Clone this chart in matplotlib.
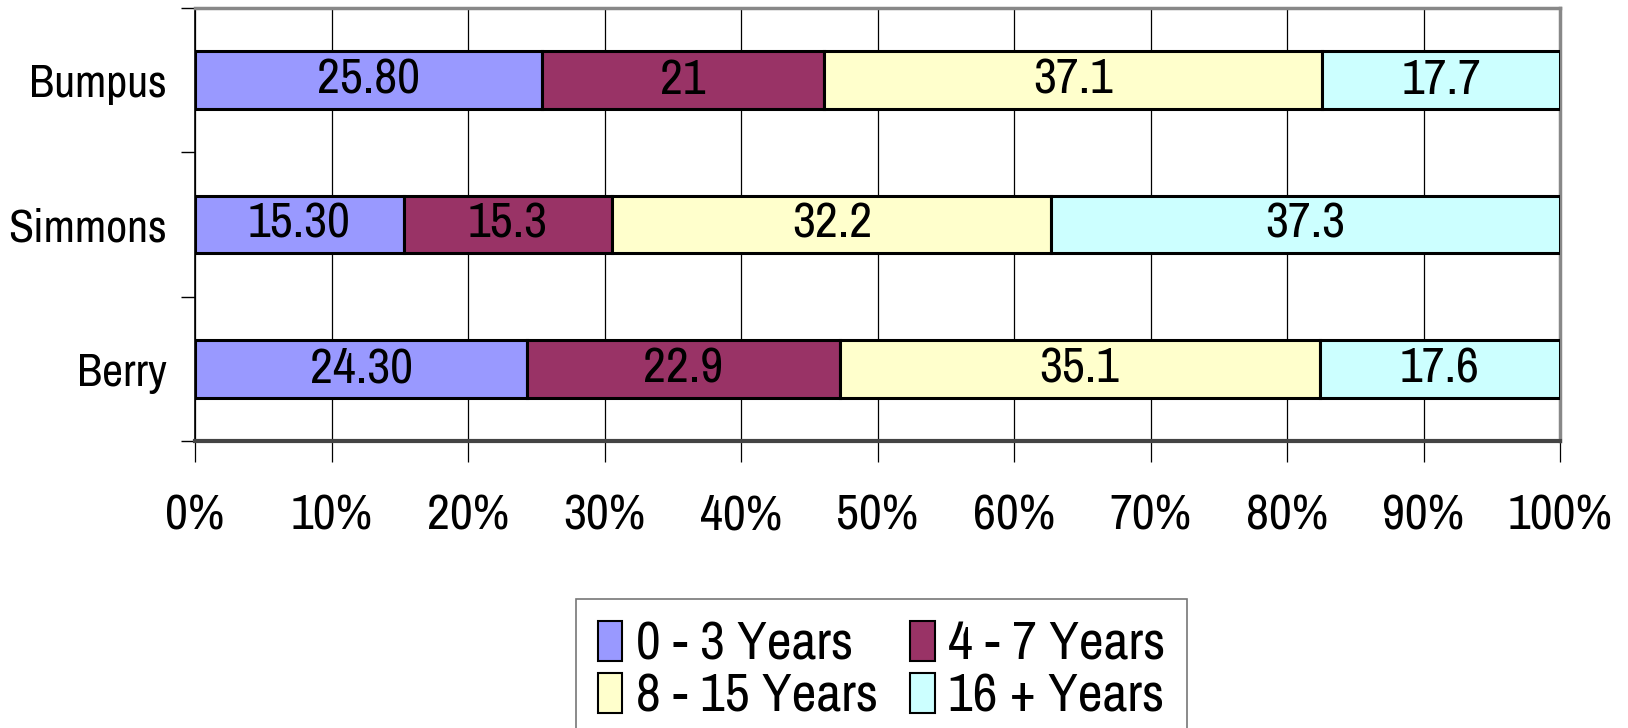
import matplotlib
matplotlib.use('Agg')
import matplotlib.pyplot as plt
import numpy as np

plt.rcParams['font.family'] = ['Archivo Narrow', 'DejaVu Sans']

# 数据
categories = ['Berry', 'Simmons', 'Bumpus']
series_names = ['0 - 3 Years', '4 - 7 Years', '8 - 15 Years', '16 + Years']
yrs_0_3 = [24.30, 15.30, 25.80]
yrs_4_7 = [22.9, 15.3, 21]
yrs_8_15 = [35.1, 32.2, 37.1]
yrs_16_plus = [17.6, 37.3, 17.7]
colors = ['#9999FF', '#993366', '#FFFFCC', '#CCFFFF']

series = [yrs_0_3, yrs_4_7, yrs_8_15, yrs_16_plus]
data = np.array(series, dtype=float)
shares = data / data.sum(axis=0)   # 百分比堆叠

fig = plt.figure(figsize=(16.28, 7.28), dpi=100)
ax = fig.add_axes([195 / 1628, 1 - 441 / 728, 1365 / 1628, 433 / 728])

y = np.arange(len(categories))
left = np.zeros(len(categories))
handles = []
for i, (vals, sh) in enumerate(zip(series, shares)):
    bars = ax.barh(y, sh, left=left, height=0.4, color=colors[i],
                   edgecolor='black', linewidth=2.2, label=series_names[i], zorder=3)
    handles.append(bars)
    for j, v in enumerate(vals):
        txt = f'{v:.2f}' if i == 0 else f'{v:g}'
        ax.text(left[j] + sh[j] / 2, y[j], txt, ha='center', va='center',
                fontsize=36, zorder=4)
    left += sh

ax.set_xlim(0, 1)
ax.set_ylim(-0.5, 2.5)
ticks = np.arange(0, 1.01, 0.1)
ax.set_xticks(ticks)
ax.set_xticklabels([f'{int(round(t * 100))}%' for t in ticks], fontsize=36)
ax.tick_params(axis='x', length=15, width=0.9, color='black', pad=23)
ax.set_yticks(y)
ax.set_yticklabels(categories, fontsize=33)
ax.tick_params(axis='y', which='major', length=0, pad=20)
ax.set_yticks([-0.5, 0.5, 1.5, 2.5], minor=True)
ax.tick_params(axis='y', which='minor', length=10, width=1, color='black')

ax.grid(axis='x', color='black', linewidth=0.9)
ax.set_axisbelow(True)

ax.spines['top'].set_color('#888888')
ax.spines['top'].set_linewidth(2.5)
ax.spines['right'].set_color('#888888')
ax.spines['right'].set_linewidth(2.5)
ax.spines['bottom'].set_color('#444444')
ax.spines['bottom'].set_linewidth(3)
ax.spines['left'].set_color('black')
ax.spines['left'].set_linewidth(1.2)

# 图例按行排列：第一行 0-3 / 4-7，第二行 8-15 / 16+
order = [0, 2, 1, 3]
leg = fig.legend(handles=[handles[k] for k in order],
                 labels=[series_names[k] for k in order], ncol=2,
                 loc='upper left', bbox_to_anchor=(576 / 1628, 1 - 599 / 728),
                 fontsize=39, frameon=True, fancybox=False, edgecolor='#555555',
                 handlelength=0.45, handleheight=0.75, handletextpad=0.25,
                 columnspacing=0.6, labelspacing=0.08, borderpad=0.4,
                 borderaxespad=0)
leg.get_frame().set_linewidth(1.2)
for p in leg.get_patches():
    p.set_linewidth(1.5)

fig.savefig('out.png', dpi=100)
